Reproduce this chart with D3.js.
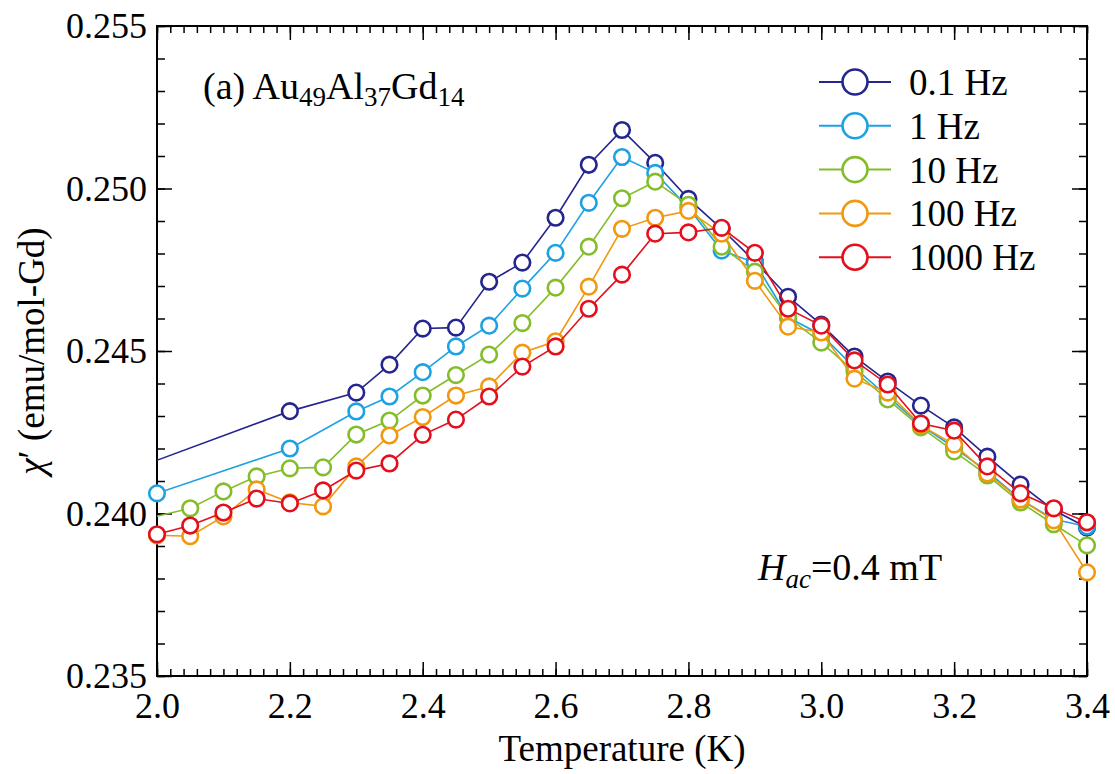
<!DOCTYPE html>
<html>
<head>
<meta charset="utf-8">
<script src="https://cdn.jsdelivr.net/npm/d3@7/dist/d3.min.js"></script>
<style>
  body { margin: 0; background: #fff; }
  svg text { font-family: "Liberation Serif", "DejaVu Serif", serif; }
</style>
</head>
<body>
<svg id="chart" width="1115" height="774"></svg>
<script>
// temperatures (K), 0.05 K steps
var temps = [1.95, 2.0, 2.05, 2.1, 2.15, 2.2, 2.25, 2.3, 2.35, 2.4, 2.45, 2.5, 2.55, 2.6, 2.65,
  2.7, 2.75, 2.8, 2.85, 2.9, 2.95, 3.0, 3.05, 3.1, 3.15, 3.2, 3.25, 3.3, 3.35, 3.4];

// chi' (emu/mol-Gd), null where a series has no point
var hz01 = [0.24126, null, null, null, null, 0.24315, null, 0.24372, 0.24458, 0.24569, 0.24572,
  0.24713, 0.24772, 0.24910, 0.25073, 0.25180, 0.25079, 0.24968, 0.24876, 0.24775, 0.24667,
  0.24581, 0.24483, 0.24406, 0.24332, 0.24265, 0.24175, 0.24089, 0.24010, 0.23957];
var hz1 = [null, 0.24062, null, null, null, 0.24200, null, 0.24314, 0.24360, 0.24435, 0.24514,
  0.24578, 0.24692, 0.24802, 0.24956, 0.25097, 0.25048, 0.24941, 0.24809, 0.24772, 0.24603,
  0.24550, 0.24449, 0.24360, 0.24271, 0.24203, 0.24129, 0.24043, 0.23982, 0.23960];
var hz10 = [0.23967, null, 0.24016, 0.24068, 0.24114, 0.24139, 0.24142, 0.24243, 0.24286, 0.24363, 0.24426,
  0.24489, 0.24586, 0.24695, 0.24821, 0.24970, 0.25021, 0.24950, 0.24821, 0.24744, 0.24603,
  0.24526, 0.24437, 0.24351, 0.24265, 0.24191, 0.24117, 0.24034, 0.23967, 0.23902];
var hz100 = [null, 0.23933, 0.23930, 0.23991, 0.24074, 0.24034, 0.24022, 0.24145, 0.24240, 0.24297, 0.24363,
  0.24391, 0.24495, 0.24530, 0.24698, 0.24876, 0.24910, 0.24931, 0.24861, 0.24716, 0.24575,
  0.24557, 0.24415, 0.24372, 0.24271, 0.24212, 0.24123, 0.24043, 0.23979, 0.23819];
var hz1000 = [null, 0.23936, 0.23963, 0.24003, 0.24046, 0.24031, 0.24071, 0.24132, 0.24154, 0.24242, 0.24289,
  0.24360, 0.24452, 0.24514, 0.24630, 0.24735, 0.24861, 0.24865, 0.24879, 0.24802, 0.24630,
  0.24578, 0.24471, 0.24397, 0.24277, 0.24255, 0.24145, 0.24062, 0.24016, 0.23973];

var seriesNames = ['0.1 Hz', '1 Hz', '10 Hz', '100 Hz', '1000 Hz'];
var seriesValues = [hz01, hz1, hz10, hz100, hz1000];
var seriesColors = ['#25258f', '#1ea1e2', '#84bd2a', '#f0990f', '#e30f1c'];

var xMajor = [2.0, 2.2, 2.4, 2.6, 2.8, 3.0, 3.2, 3.4];
var yMajor = [0.235, 0.240, 0.245, 0.250, 0.255];

var margin = {left: 157, top: 26, right: 28, bottom: 98};
var width = 1115 - margin.left - margin.right,
    height = 774 - margin.top - margin.bottom;

var svg = d3.select('#chart');
var g = svg.append('g')
    .attr('transform', 'translate(' + margin.left + ',' + margin.top + ')');

var x = d3.scaleLinear().domain([2.0, 3.4]).range([0, width]);
var y = d3.scaleLinear().domain([0.235, 0.255]).range([height, 0]);

var xMinor = d3.range(0, 71).map(function(i) { return 2.0 + i * 0.02; });
var yMinor = d3.range(0, 21).map(function(i) { return 0.235 + i * 0.001; });

// Minor ticks first, then major ticks with labels.
function drawAxis(axis, transform, cls) {
  var a = g.append('g').attr('class', cls).attr('transform', transform).call(axis);
  a.attr('font-family', null).attr('font-size', null);
  a.select('.domain').remove();
  a.selectAll('line').attr('stroke', '#000').attr('stroke-width', 1.5);
  a.selectAll('text').attr('fill', '#000').attr('font-size', 36);
  return a;
}

drawAxis(d3.axisBottom(x).tickValues(xMinor).tickSize(-7).tickFormat(''), 'translate(0,' + height + ')', 'x-minor');
drawAxis(d3.axisTop(x).tickValues(xMinor).tickSize(-7).tickFormat(''), 'translate(0,0)', 'x-minor-top');
drawAxis(d3.axisBottom(x).tickValues(xMajor).tickSize(-14).tickPadding(16).tickFormat(d3.format('.1f')),
    'translate(0,' + height + ')', 'x-major');
drawAxis(d3.axisTop(x).tickValues(xMajor).tickSize(-14).tickFormat(''), 'translate(0,0)', 'x-major-top');

drawAxis(d3.axisLeft(y).tickValues(yMinor).tickSize(-8).tickFormat(''), 'translate(0,0)', 'y-minor');
drawAxis(d3.axisRight(y).tickValues(yMinor).tickSize(-8).tickFormat(''), 'translate(' + width + ',0)', 'y-minor-right');
drawAxis(d3.axisLeft(y).tickValues(yMajor).tickSize(-15).tickPadding(10).tickFormat(d3.format('.3f')),
    'translate(0,0)', 'y-major');
drawAxis(d3.axisRight(y).tickValues(yMajor).tickSize(-15).tickFormat(''), 'translate(' + width + ',0)', 'y-major-right');

g.append('rect')
    .attr('width', width)
    .attr('height', height)
    .attr('fill', 'none')
    .attr('stroke', '#000')
    .attr('stroke-width', 2);

// Clip the connecting lines to the frame; markers may overhang it.
svg.append('defs').append('clipPath').attr('id', 'plot-clip')
  .append('rect').attr('width', width).attr('height', height);

var line = d3.line()
    .x(function(d) { return x(d.t); })
    .y(function(d) { return y(d.v); });

seriesValues.forEach(function(vals, i) {
  var pts = temps.map(function(t, j) { return {t: t, v: vals[j]}; })
      .filter(function(d) { return d.v !== null; });
  g.append('path')
      .datum(pts)
      .attr('clip-path', 'url(#plot-clip)')
      .attr('fill', 'none')
      .attr('stroke', seriesColors[i])
      .attr('stroke-width', 1.6)
      .attr('d', line);
  g.append('g').selectAll('circle')
      .data(pts.filter(function(d) { return d.t >= 2.0; }))
    .enter().append('circle')
      .attr('cx', function(d) { return x(d.t); })
      .attr('cy', function(d) { return y(d.v); })
      .attr('r', 7.8)
      .attr('fill', '#fff')
      .attr('stroke', seriesColors[i])
      .attr('stroke-width', 2.6);
});

// Legend
var legend = g.append('g').attr('transform', 'translate(' + (819 - margin.left) + ',' + (82 - margin.top) + ')');
seriesNames.forEach(function(name, i) {
  var row = legend.append('g').attr('transform', 'translate(0,' + (i * 43.8) + ')');
  row.append('line').attr('x1', 0).attr('x2', 72)
      .attr('stroke', seriesColors[i]).attr('stroke-width', 2);
  row.append('circle').attr('cx', 36).attr('r', 12.5)
      .attr('fill', '#fff').attr('stroke', seriesColors[i]).attr('stroke-width', 2.6);
  row.append('text').attr('x', 90).attr('dy', '0.35em')
      .style('font-size', '37px').text(name);
});

// Sample label
var label = svg.append('text').attr('x', 203).attr('y', 99).style('font-size', '38px');
label.append('tspan').text('(a) Au');
label.append('tspan').attr('dy', 7).style('font-size', '27px').text('49');
label.append('tspan').attr('dy', -7).text('Al');
label.append('tspan').attr('dy', 7).style('font-size', '27px').text('37');
label.append('tspan').attr('dy', -7).text('Gd');
label.append('tspan').attr('dy', 7).style('font-size', '27px').text('14');

// Field annotation
var field = svg.append('text').attr('x', 758).attr('y', 580).style('font-size', '38px');
field.append('tspan').style('font-style', 'italic').text('H');
field.append('tspan').attr('dy', 8).style('font-style', 'italic').style('font-size', '27px').text('ac');
field.append('tspan').attr('dy', -8).text('=0.4 mT');

// Axis titles
svg.append('text')
    .attr('x', margin.left + width / 2)
    .attr('y', 761)
    .attr('text-anchor', 'middle')
    .style('font-size', '37px')
    .text('Temperature (K)');

var yt = svg.append('text')
    .attr('transform', 'translate(44,' + (margin.top + height / 2) + ') rotate(-90)')
    .attr('text-anchor', 'middle')
    .style('font-size', '37px');
yt.append('tspan').style('font-style', 'italic').text('\u03c7');
yt.append('tspan').text('\u2032 (emu/mol-Gd)');
</script>
</body>
</html>
